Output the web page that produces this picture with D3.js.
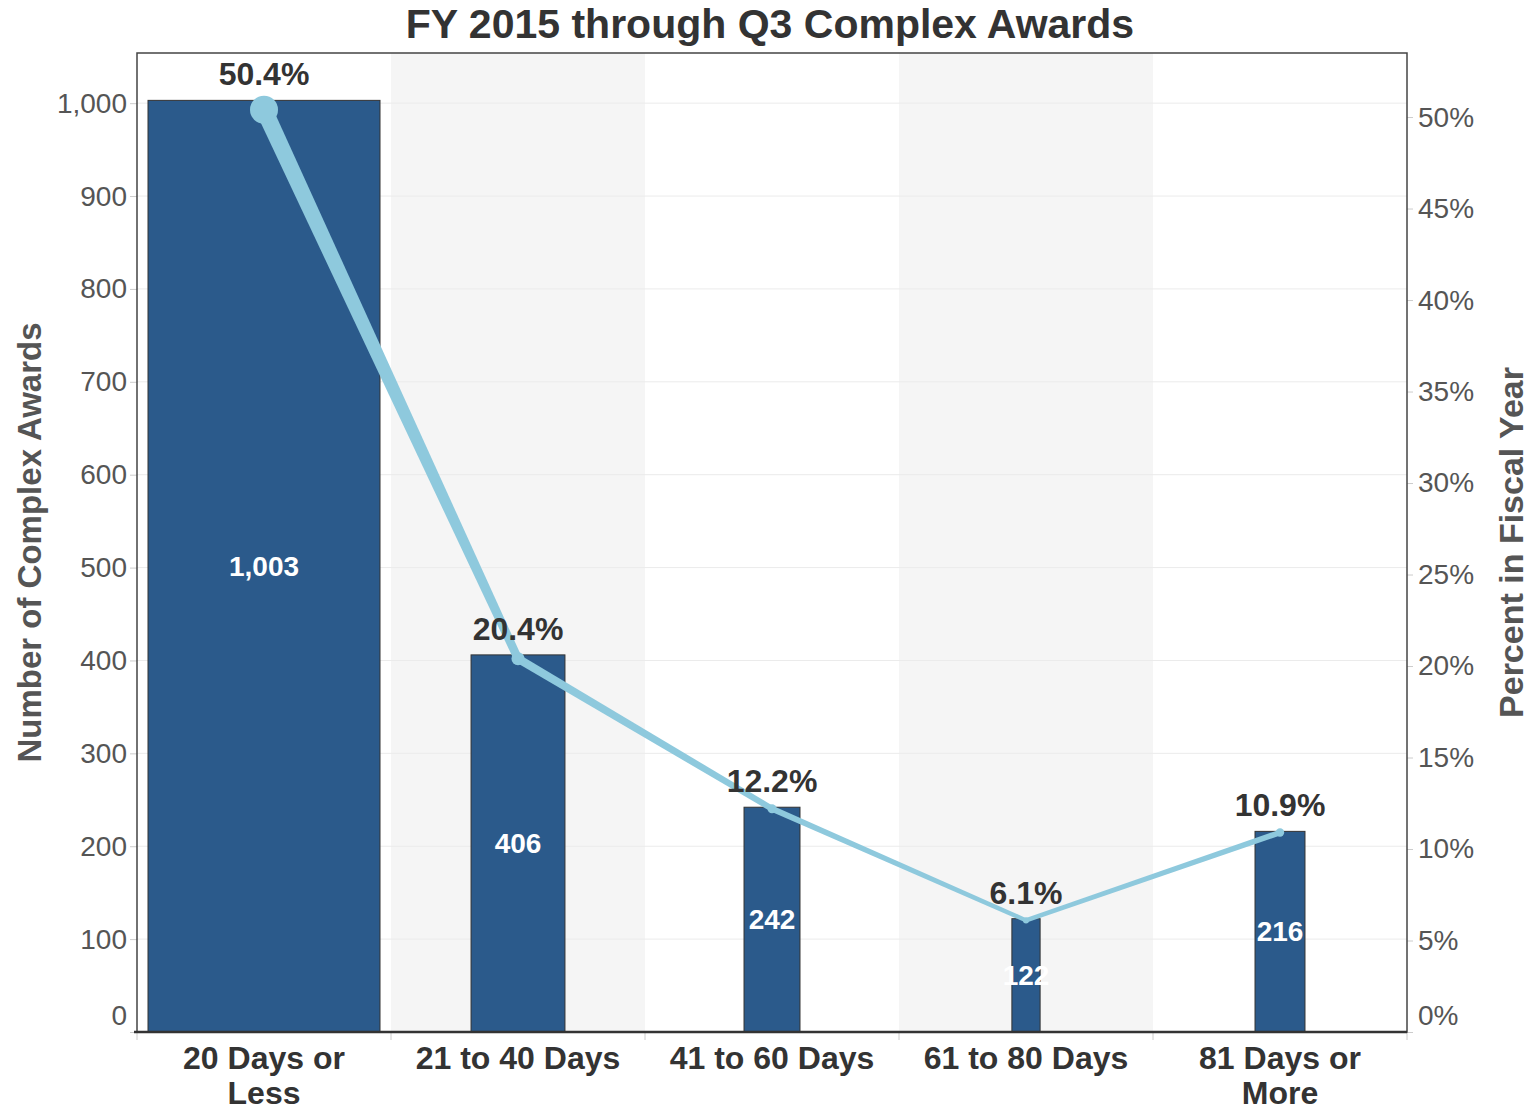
<!DOCTYPE html>
<html lang="en">
<head>
<meta charset="UTF-8">
<title>FY 2015 through Q3 Complex Awards</title>
<script src="https://d3js.org/d3.v7.min.js"></script>
<style>
  body { margin: 0; background: #fff; }
  svg { font-family: "Liberation Sans", Arial, sans-serif; }
  .tick-label { fill: #555; font-size: 28px; }
</style>
</head>
<body>
<svg id="canvas" width="1537" height="1110"></svg>
<script>
// data
var categories = [["20 Days or", "Less"], ["21 to 40 Days"], ["41 to 60 Days"], ["61 to 80 Days"], ["81 Days or", "More"]];
var counts = [1003, 406, 242, 122, 216];
var percents = [50.4, 20.4, 12.2, 6.1, 10.9];
var countTicks = [0, 100, 200, 300, 400, 500, 600, 700, 800, 900, 1000];
var pctTicks = [0, 5, 10, 15, 20, 25, 30, 35, 40, 45, 50];

var svg = d3.select("#canvas");
var plotLeft = 137, plotRight = 1407, plotTop = 53, plotBottom = 1032;

var x = d3.scaleBand().domain(d3.range(categories.length)).range([plotLeft, plotRight]);
var y = d3.scaleLinear().domain([0, 1054]).range([plotBottom, plotTop]);
var yPct = d3.scaleLinear().domain([0, 53.5]).range([plotBottom, plotTop]);
var barW = d3.scaleLinear().domain([0, 1003]).range([0, 232]);
var lineW = d3.scaleLinear().domain([0, 50.4]).range([2.5, 17]);
var dotR = d3.scaleLinear().domain([0, 50.4]).range([1.5, 14]);

// alternating column shading
svg.selectAll(".band")
  .data(d3.range(categories.length).filter(function(i){ return i % 2 == 1; }))
  .enter().append("rect")
  .attr("x", function(i){ return x(i); })
  .attr("y", plotTop)
  .attr("width", x.bandwidth())
  .attr("height", plotBottom - plotTop)
  .attr("fill", "#f5f5f5");

// gridlines
svg.selectAll(".grid")
  .data(countTicks.slice(1))
  .enter().append("line")
  .attr("x1", plotLeft).attr("x2", plotRight)
  .attr("y1", function(d){ return y(d); })
  .attr("y2", function(d){ return y(d); })
  .attr("stroke", "#ebebeb").attr("stroke-width", 1);

// bars
svg.selectAll(".bar")
  .data(counts)
  .enter().append("rect")
  .attr("x", function(d, i){ return x(i) + x.bandwidth() / 2 - barW(d) / 2; })
  .attr("y", function(d){ return y(d); })
  .attr("width", function(d){ return barW(d); })
  .attr("height", function(d){ return plotBottom - y(d); })
  .attr("fill", "#2b5a8b")
  .attr("stroke", "#333").attr("stroke-width", 1);

// left axis
var yAxis = svg.append("g")
  .attr("transform", "translate(" + plotLeft + ",0)")
  .call(d3.axisLeft(y).tickValues(countTicks).tickSize(7).tickPadding(3).tickFormat(d3.format(",")))
  .attr("font-family", null).attr("font-size", null);
yAxis.select(".domain").remove();
yAxis.selectAll(".tick line").attr("stroke", "#ccc");
yAxis.selectAll(".tick text").attr("class", "tick-label")
  .attr("dy", function(d){ return d == 0 ? "-0.27em" : "0.32em"; });

// right axis
var yAxisR = svg.append("g")
  .attr("transform", "translate(" + plotRight + ",0)")
  .call(d3.axisRight(yPct).tickValues(pctTicks).tickSize(6).tickPadding(5).tickFormat(function(d){ return d + "%"; }))
  .attr("font-family", null).attr("font-size", null);
yAxisR.select(".domain").remove();
yAxisR.selectAll(".tick line").attr("stroke", "#ccc");
yAxisR.selectAll(".tick text").attr("class", "tick-label")
  .attr("dy", function(d){ return d == 0 ? "-0.27em" : "0.32em"; });

// x tick marks at band edges
svg.selectAll(".xtick")
  .data(d3.range(categories.length + 1))
  .enter().append("line")
  .attr("x1", function(i){ return plotLeft + i * x.step(); })
  .attr("x2", function(i){ return plotLeft + i * x.step(); })
  .attr("y1", plotBottom).attr("y2", plotBottom + 8)
  .attr("stroke", "#ccc");

// frame
svg.append("rect")
  .attr("x", plotLeft).attr("y", plotTop)
  .attr("width", plotRight - plotLeft).attr("height", plotBottom - plotTop)
  .attr("fill", "none").attr("stroke", "#444").attr("stroke-width", 1.5);
svg.append("line")
  .attr("x1", plotLeft - 3).attr("x2", plotRight).attr("y1", plotBottom).attr("y2", plotBottom)
  .attr("stroke", "#333").attr("stroke-width", 2.5);

// x labels
var xl = svg.selectAll(".xlabel")
  .data(categories)
  .enter().append("text")
  .attr("text-anchor", "middle")
  .attr("font-size", 32).attr("font-weight", "bold").attr("fill", "#333");
xl.selectAll("tspan")
  .data(function(d, i){ return d.map(function(s){ return {s: s, i: i}; }); })
  .enter().append("tspan")
  .attr("x", function(d){ return x(d.i) + x.bandwidth() / 2; })
  .attr("y", function(d, j){ return 1069 + j * 35; })
  .text(function(d){ return d.s; });

// percent line, tapered segments
var pts = percents.map(function(p, i){
  return {x: x(i) + x.bandwidth() / 2, y: yPct(p), w: lineW(p), r: dotR(p)};
});
var lineColor = "#8ec9dd";
var segs = d3.pairs(pts);
svg.selectAll(".seg")
  .data(segs)
  .enter().append("path")
  .attr("fill", lineColor)
  .attr("d", function(s){
    var a = s[0], b = s[1];
    var dx = b.x - a.x, dy = b.y - a.y, len = Math.sqrt(dx * dx + dy * dy);
    var nx = -dy / len, ny = dx / len;
    return "M" + (a.x + nx * a.w / 2) + "," + (a.y + ny * a.w / 2) +
      "L" + (b.x + nx * b.w / 2) + "," + (b.y + ny * b.w / 2) +
      "L" + (b.x - nx * b.w / 2) + "," + (b.y - ny * b.w / 2) +
      "L" + (a.x - nx * a.w / 2) + "," + (a.y - ny * a.w / 2) + "Z";
  });
svg.selectAll(".dot")
  .data(pts)
  .enter().append("circle")
  .attr("cx", function(d){ return d.x; })
  .attr("cy", function(d){ return d.y; })
  .attr("r", function(d){ return d.r; })
  .attr("fill", lineColor);

// count labels inside bars
svg.selectAll(".count")
  .data(counts)
  .enter().append("text")
  .attr("x", function(d, i){ return x(i) + x.bandwidth() / 2; })
  .attr("y", function(d){ return (y(d) + plotBottom) / 2; })
  .attr("dy", "0.35em")
  .attr("text-anchor", "middle")
  .attr("font-size", 28).attr("font-weight", "bold").attr("fill", "#fff")
  .text(function(d){ return d3.format(",")(d); });

// percent labels above bars
svg.selectAll(".pct")
  .data(percents)
  .enter().append("text")
  .attr("x", function(d, i){ return x(i) + x.bandwidth() / 2; })
  .attr("y", function(d, i){ return y(counts[i]) - 15; })
  .attr("text-anchor", "middle")
  .attr("font-size", 32).attr("font-weight", "bold").attr("fill", "#333")
  .text(function(d){ return d.toFixed(1) + "%"; });

// title and axis titles
svg.append("text")
  .attr("x", 770).attr("y", 38)
  .attr("text-anchor", "middle")
  .attr("font-size", 41).attr("font-weight", "bold").attr("fill", "#333")
  .text("FY 2015 through Q3 Complex Awards");

svg.append("text")
  .attr("transform", "translate(41," + (plotTop + plotBottom) / 2 + ") rotate(-90)")
  .attr("text-anchor", "middle")
  .attr("font-size", 33).attr("font-weight", "bold").attr("fill", "#555")
  .text("Number of Complex Awards");

svg.append("text")
  .attr("transform", "translate(1523," + (plotTop + plotBottom) / 2 + ") rotate(-90)")
  .attr("text-anchor", "middle")
  .attr("font-size", 34).attr("font-weight", "bold").attr("fill", "#555")
  .text("Percent in Fiscal Year");
</script>
</body>
</html>
